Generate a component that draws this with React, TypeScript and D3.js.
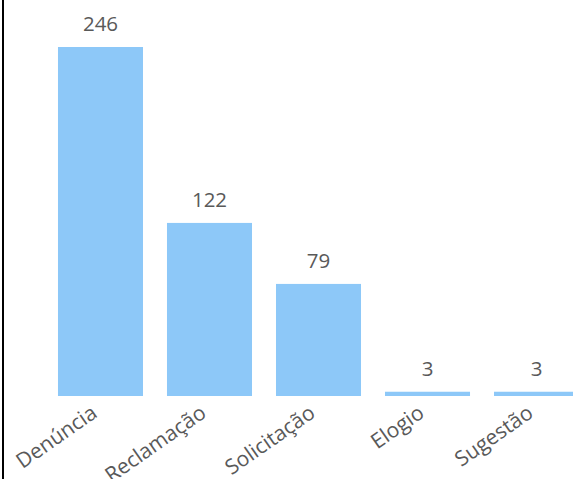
import React from "react";
import * as d3 from "d3";

const categories = ["Denúncia", "Reclamação", "Solicitação", "Elogio", "Sugestão"];
const values = [246, 122, 79, 3, 3];

const W = 573;
const H = 479;

export default function App() {
  const x = d3.scaleBand<string>().domain(categories).range([34, 603]).paddingInner(0.22).paddingOuter(0.22);
  const y = d3.scaleLinear().domain([0, 246]).range([396, 47]);
  const font = "'Open Sans', 'Noto Sans', sans-serif";
  return (
    <svg width={W} height={H} style={{ position: "absolute", left: 0, top: 0, background: "#fff" }}>
      <line x1={3} x2={3} y1={0} y2={H} stroke="#000" strokeWidth={2} />
      {categories.map((c, i) => {
        const bx = x(c)!;
        const cx = bx + x.bandwidth() / 2;
        return (
          <g key={c}>
            <rect x={bx} y={y(values[i])} width={x.bandwidth()} height={y(0) - y(values[i])} fill="#8dc8f8" />
            <text x={cx} y={y(values[i]) - 16} textAnchor="middle" fontFamily={font} fontSize={20.5} fill="#595959">
              {values[i]}
            </text>
            <text
              transform={`translate(${cx - 2},${y(0) + 20}) rotate(-35)`}
              textAnchor="end"
              fontFamily={font}
              fontSize={21}
              fill="#595959"
            >
              {c}
            </text>
          </g>
        );
      })}
    </svg>
  );
}
